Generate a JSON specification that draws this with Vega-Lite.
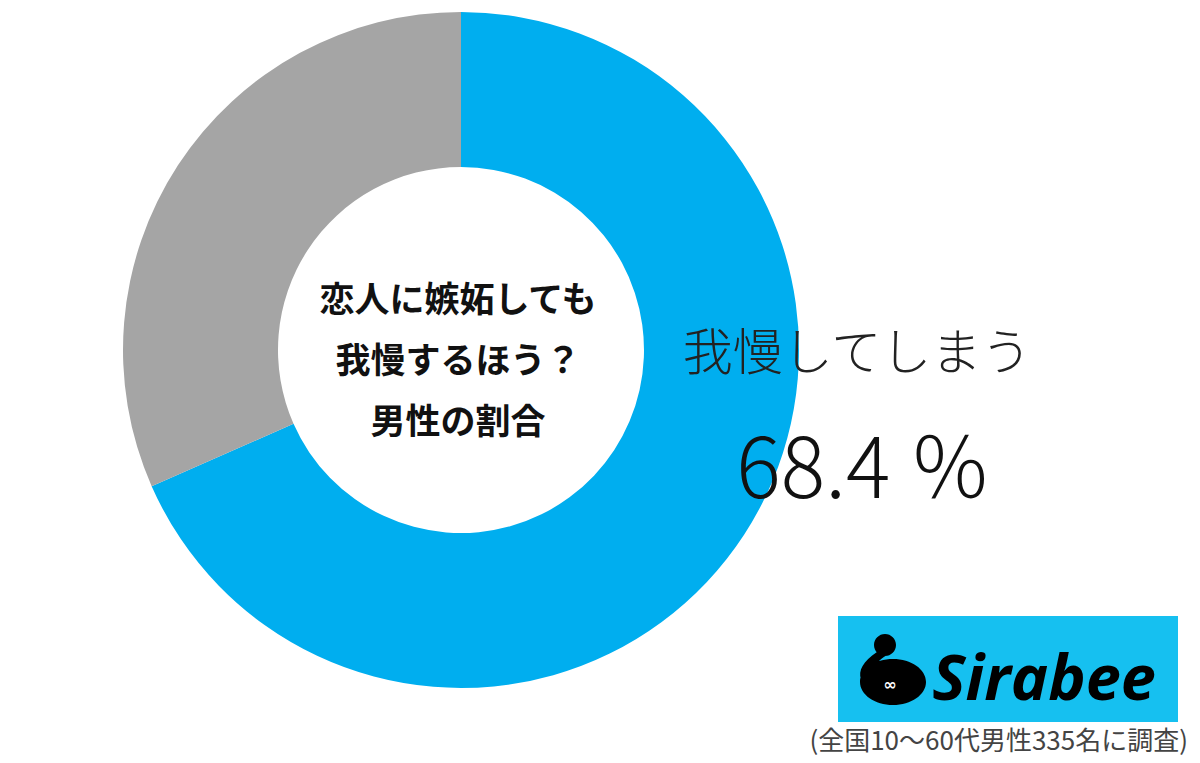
{
  "$schema": "https://vega.github.io/schema/vega-lite/v6.json",
  "padding": {"left": 84, "top": 0, "right": 0, "bottom": 41},
  "background": "#ffffff",
  "bounds": "flush",
  "spacing": 0,
  "config": {"view": {"stroke": null}},
  "datasets": {
    "answers": [
      {"answer": "我慢してしまう", "pct": 68.4, "pctLabel": "68.4 ％"},
      {"answer": "我慢しない", "pct": 31.6, "pctLabel": "31.6 ％"}
    ]
  },
  "hconcat": [
    {
      "width": 754,
      "height": 700,
      "layer": [
        {
          "data": {"name": "answers"},
          "mark": {"type": "arc", "outerRadius": 338, "innerRadius": 183},
          "encoding": {
            "theta": {"field": "pct", "type": "quantitative", "stack": true},
            "order": {"field": "pct", "sort": "descending"},
            "color": {
              "field": "answer",
              "type": "nominal",
              "scale": {"domain": ["我慢してしまう", "我慢しない"], "range": ["#00AEEF", "#A5A5A5"]},
              "legend": null
            }
          }
        },
        {
          "data": {"values": [{"question": "恋人に嫉妬しても\n我慢するほう？\n男性の割合"}]},
          "mark": {"type": "text", "lineBreak": "\n", "font": "Noto Sans CJK JP", "fontSize": 35, "fontWeight": "bold", "lineHeight": 61, "align": "center", "baseline": "middle", "dy": -49, "dx": -3, "color": "#111111"},
          "encoding": {"text": {"field": "question"}}
        },
        {
          "data": {"name": "answers"},
          "transform": [{"filter": "datum.answer == '我慢してしまう'"}],
          "mark": {"type": "text", "font": "Noto Sans CJK JP", "fontSize": 50, "fontWeight": 300, "align": "center", "baseline": "middle", "dx": 396, "dy": 5, "color": "#222222"},
          "encoding": {"text": {"field": "answer"}}
        },
        {
          "data": {"name": "answers"},
          "transform": [{"filter": "datum.answer == '我慢してしまう'"}],
          "mark": {"type": "text", "font": "Noto Sans CJK JP", "fontSize": 83, "fontWeight": 300, "align": "center", "baseline": "alphabetic", "dx": 403, "dy": 148, "color": "#111111"},
          "encoding": {"text": {"field": "pctLabel"}}
        }
      ]
    },
    {
      "spacing": 0,
      "vconcat": [
        {
          "width": 340,
          "height": 616,
          "data": {"values": [{"blank": ""}]},
          "mark": {"type": "text"},
          "encoding": {"text": {"field": "blank"}}
        },
        {
          "width": 340,
          "height": 106,
          "view": {"fill": "#16C0F0", "stroke": null},
          "title": {"text": "(全国10～60代男性335名に調査)", "orient": "bottom", "anchor": "end", "font": "Noto Sans CJK JP", "fontSize": 26, "fontWeight": "normal", "color": "#444444", "offset": 7, "dx": 10},
          "data": {"values": [{"brand": "Sirabee", "eyes": "∞"}]},
          "layer": [
            {
              "mark": {"type": "point", "shape": "M -148 13 A 33 23 0 1 0 -82 13 A 33 23 0 1 0 -148 13 Z M -134 -24 A 11 11 0 1 0 -112 -24 A 11 11 0 1 0 -134 -24 Z M -131 -17 C -145 -8 -150 2 -147 10 L -133 4 C -134 -3 -130 -9 -121 -14 Z", "size": 4, "filled": true, "color": "#000000", "opacity": 1, "strokeWidth": 0},
              "encoding": {}
            },
            {
              "mark": {"type": "text", "font": "DejaVu Sans", "fontSize": 16, "fontWeight": "bold", "color": "#ffffff", "align": "center", "baseline": "middle", "dx": -118, "dy": 16},
              "encoding": {"text": {"field": "eyes"}}
            },
            {
              "mark": {"type": "text", "font": "Open Sans", "fontSize": 63, "fontWeight": "bold", "fontStyle": "italic", "color": "#000000", "align": "center", "baseline": "alphabetic", "dx": 36, "dy": 31},
              "encoding": {"text": {"field": "brand"}}
            }
          ]
        }
      ]
    }
  ]
}
